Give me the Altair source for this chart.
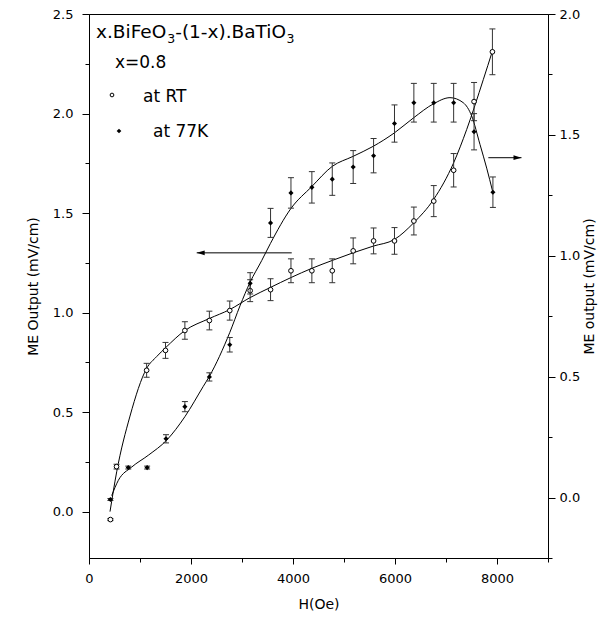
import altair as alt
import pandas as pd

# ---------------- data ----------------
# RT series (open circles, left axis)
rt_h = [420, 540, 1130, 1500, 1880, 2360, 2760, 3160, 3560, 3960, 4370, 4770,
        5180, 5580, 5990, 6370, 6760, 7150, 7550, 7910]
rt_me = [-0.04, 0.226, 0.71, 0.81, 0.91, 0.96, 1.01, 1.11, 1.115, 1.21, 1.21, 1.21,
         1.31, 1.36, 1.36, 1.46, 1.56, 1.715, 2.06, 2.31]
rt_err = [0.005, 0.012, 0.035, 0.04, 0.044, 0.047, 0.048, 0.055, 0.055, 0.06, 0.06, 0.06,
          0.065, 0.065, 0.067, 0.07, 0.078, 0.084, 0.096, 0.115]

# 77K series (filled diamonds, right axis)
lt_h = [420, 770, 1140, 1510, 1880, 2360, 2760, 3160, 3560, 3960, 4370, 4770,
        5180, 5580, 5990, 6370, 6760, 7150, 7550, 7920]
lt_me = [-0.008, 0.124, 0.124, 0.243, 0.376, 0.499, 0.632, 0.886, 1.136, 1.26, 1.283, 1.317,
         1.367, 1.414, 1.547, 1.633, 1.633, 1.633, 1.513, 1.263]
lt_err = [0.004, 0.006, 0.006, 0.017, 0.021, 0.017, 0.03, 0.044, 0.06, 0.063, 0.065, 0.067,
          0.068, 0.071, 0.077, 0.08, 0.08, 0.08, 0.075, 0.063]

# fitted curves
rt_fit_h = [412, 543, 804, 1131, 1327, 1504, 1876, 2359, 2759, 3157, 3555,
            3961, 4367, 4771, 5176, 5575, 5986, 6367, 6759, 7151, 7406, 7731, 7908]
rt_fit_me = [0.0, 0.2, 0.48, 0.72, 0.779, 0.824, 0.909, 0.970, 1.015,
             1.075, 1.126, 1.176, 1.222, 1.262, 1.30, 1.334, 1.367, 1.451, 1.569, 1.753,
             1.92, 2.17, 2.312]
lt_fit_h = [445, 575, 837, 1163, 1524, 1882, 2241, 2359, 2759, 2961, 3157, 3386, 3555,
            3961, 4367, 4771, 5176, 5575, 5986, 6367, 6759, 7078, 7339, 7504, 7667, 7798, 7916]
lt_fit_me = [0.008, 0.071, 0.126, 0.175, 0.2375, 0.335, 0.46, 0.501, 0.682, 0.793, 0.89,
             0.98, 1.05, 1.196, 1.286, 1.37, 1.411, 1.453, 1.508, 1.571, 1.629, 1.654,
             1.633, 1.578, 1.46, 1.3625, 1.265]

# arrows (data coordinates, left axis)
arrow_left = {"x1": 2112, "x2": 3975, "y": 1.30}
arrow_right = {"x1": 7830, "x2": 8480, "y": 1.778}

x_ticks = list(range(0, 9001, 1000))
yl_ticks = [i * 0.25 for i in range(0, 11)]
yr_ticks = [i * 0.25 for i in range(-1, 9)]

# ---------------- frames ----------------
df_rt = pd.DataFrame({"H": rt_h, "ME": rt_me})
df_rt["lo"] = df_rt["ME"] - pd.Series(rt_err)
df_rt["hi"] = df_rt["ME"] + pd.Series(rt_err)
df_lt = pd.DataFrame({"H": lt_h, "ME": lt_me})
df_lt["lo"] = df_lt["ME"] - pd.Series(lt_err)
df_lt["hi"] = df_lt["ME"] + pd.Series(lt_err)
caps_rt = pd.DataFrame({"H": rt_h * 2, "Y": list(df_rt["lo"]) + list(df_rt["hi"])})
caps_lt = pd.DataFrame({"H": lt_h * 2, "Y": list(df_lt["lo"]) + list(df_lt["hi"])})
fit_rt = pd.DataFrame({"H": rt_fit_h, "ME": rt_fit_me})
fit_lt = pd.DataFrame({"H": lt_fit_h, "ME": lt_fit_me})
arr = pd.DataFrame([arrow_left, arrow_right])
heads_l = pd.DataFrame({"x": [arrow_left["x1"]], "y": [arrow_left["y"]]})
heads_r = pd.DataFrame({"x": [arrow_right["x2"]], "y": [arrow_right["y"]]})

FONT = "DejaVu Sans"

x_axis = alt.Axis(
    values=x_ticks, title="H(Oe)", grid=False,
    labelExpr="datum.value % 2000 == 0 ? format(datum.value, 'd') : ''",
    tickSize={"condition": {"test": "datum.value % 2000 == 0", "value": 6}, "value": 4},
    labelPadding=8, titlePadding=12, labelFlush=False,
)
ax_left = alt.Axis(
    values=yl_ticks, orient="left", title="ME Output (mV/cm)", grid=False,
    labelExpr="datum.value % 0.5 == 0 ? format(datum.value, '.1f') : ''",
    tickSize={"condition": {"test": "datum.value % 0.5 == 0", "value": 7}, "value": 4},
    labelPadding=9, titlePadding=12, labelFlush=False,
)
ax_right = alt.Axis(
    values=yr_ticks, orient="right", title="ME output (mV/cm)", grid=False,
    labelExpr="datum.value % 0.5 == 0 ? format(datum.value, '.1f') : ''",
    tickSize={"condition": {"test": "datum.value % 0.5 == 0", "value": 7}, "value": 4},
    labelPadding=4, titlePadding=3, titleAngle=270, titleBaseline="top", labelFlush=False,
)

xs = alt.Scale(domain=[0, 9000], nice=False, zero=False)
yls = alt.Scale(domain=[-0.233, 2.5], nice=False, zero=False)
yrs = alt.Scale(domain=[-0.25, 2.0], nice=False, zero=False)


def X(f):
    return alt.X(f, type="quantitative", scale=xs, axis=x_axis)


def YL(f):
    return alt.Y(f, type="quantitative", scale=yls, axis=ax_left)


def YR(f):
    return alt.Y(f, type="quantitative", scale=yrs, axis=ax_right)


ERR = "#333333"
CAP = "M-1,0L1,0"

# --- left (RT) group ---
l_fit = alt.Chart(fit_rt).mark_line(color="black", strokeWidth=1, interpolate="monotone").encode(
    x=X("H"), y=YL("ME"))
l_err = alt.Chart(df_rt).mark_rule(color=ERR, strokeWidth=1).encode(
    x=X("H"), y=YL("lo"), y2="hi")
l_caps = alt.Chart(caps_rt).mark_point(shape=CAP, size=36, strokeWidth=1, color=ERR,
                                        filled=False, opacity=1).encode(x=X("H"), y=YL("Y"))
l_pts = alt.Chart(df_rt).mark_point(shape="circle", size=22, filled=False, fill="white",
                                    stroke="black", strokeWidth=1, opacity=1).encode(
    x=X("H"), y=YL("ME"))
a_lines = alt.Chart(arr).mark_rule(color="black", strokeWidth=1).encode(
    x=X("x1"), x2="x2", y=YL("y"))
a_head_l = alt.Chart(heads_l).mark_point(shape="M0,0L2,-0.6L2,0.6Z", size=64, filled=True,
                                         color="black", opacity=1).encode(x=X("x"), y=YL("y"))
a_head_r = alt.Chart(heads_r).mark_point(shape="M0,0L-2,-0.6L-2,0.6Z", size=64, filled=True,
                                         color="black", opacity=1).encode(x=X("x"), y=YL("y"))

# legend / annotation text (pixel positions within the plot area)
ann = pd.DataFrame({"t": [0]})


def txt(s, px, py, size):
    return alt.Chart(ann).mark_text(text=s, font=FONT, fontSize=size, align="left",
                                    baseline="alphabetic", color="black").encode(
        x=alt.value(px), y=alt.value(py))


t1 = txt("x.BiFeO", 7, 24, 18.5)
t2 = txt("3", 7 + 71.2, 29, 12.5)
t3 = txt("-(1-x).BaTiO", 7 + 71.2 + 8.0, 24, 18.5)
t4 = txt("3", 7 + 71.2 + 8.0 + 111.4, 29, 12.5)
t5 = txt("x=0.8", 26, 54, 17)
t6 = txt("at RT", 54, 88, 17)
t7 = txt("at 77K", 64, 123, 17)
g1 = alt.Chart(ann).mark_point(shape="circle", size=14, filled=False, stroke="black",
                               strokeWidth=1, opacity=1).encode(x=alt.value(23), y=alt.value(81))
g2 = alt.Chart(ann).mark_point(shape="diamond", size=22, filled=True, color="black",
                               opacity=1).encode(x=alt.value(30), y=alt.value(117))

left = alt.layer(l_fit, l_err, l_caps, l_pts, a_lines, a_head_l, a_head_r,
                 t1, t2, t3, t4, t5, t6, t7, g1, g2)

# --- right (77K) group ---
r_fit = alt.Chart(fit_lt).mark_line(color="black", strokeWidth=1, interpolate="monotone").encode(
    x=X("H"), y=YR("ME"))
r_err = alt.Chart(df_lt).mark_rule(color=ERR, strokeWidth=1).encode(
    x=X("H"), y=YR("lo"), y2="hi")
r_caps = alt.Chart(caps_lt).mark_point(shape=CAP, size=36, strokeWidth=1, color=ERR,
                                        filled=False, opacity=1).encode(x=X("H"), y=YR("Y"))
r_pts = alt.Chart(df_lt).mark_point(shape="diamond", size=26, filled=True, color="black",
                                    opacity=1).encode(x=X("H"), y=YR("ME"))
right = alt.layer(r_fit, r_err, r_caps, r_pts)

chart = alt.layer(left, right).resolve_scale(y="independent").properties(
    width=459, height=544,
    autosize=alt.AutoSizeParams(type="none"),
    padding={"left": 81, "top": 6, "right": 50, "bottom": 54},
    background="white",
).configure_axis(
    labelFont=FONT, labelFontSize=13, labelColor="black",
    titleFont=FONT, titleFontSize=14, titleFontWeight="normal", titleColor="black",
    domainColor="black", tickColor="black", domainWidth=1, tickWidth=1,
).configure_view(stroke="black", strokeWidth=1)

chart.save("out.html", embed_options={"renderer": "svg", "actions": False})
